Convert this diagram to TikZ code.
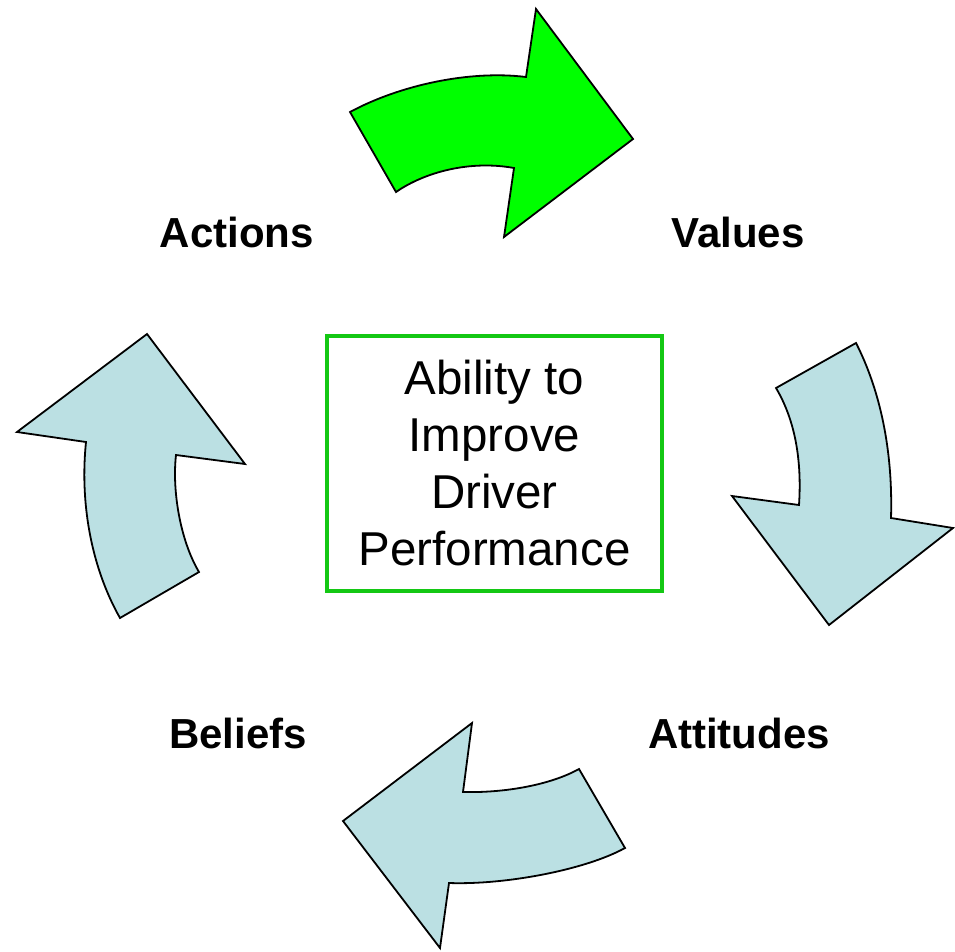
\documentclass[tikz,border=0pt]{standalone}
\usepackage{fontspec}
\setmainfont{Liberation Sans}
\definecolor{arrowgreen}{RGB}{0,255,0}
\definecolor{arrowblue}{RGB}{187,224,227}
\definecolor{boxgreen}{RGB}{20,200,20}
\begin{document}
\begin{tikzpicture}[x=1pt,y=-1pt,
  cyclearrow/.style={draw=black,line width=1.8pt,line join=miter},
  stage/.style={font=\fontsize{42}{48}\selectfont\bfseries,inner sep=0pt},
  centerbox/.style={draw=boxgreen,line width=4.5pt,minimum width=335pt,minimum height=255pt,
    align=center,font=\fontsize{47.5}{57}\selectfont,inner sep=0pt}]
\useasboundingbox (0,0) rectangle (955,951);

% stage labels
\node[stage] (actions) at (237,232) {Actions};
\node[stage] (values) at (738,232) {Values};
\node[stage] (attitudes) at (739,733) {Attitudes};
\node[stage] (beliefs) at (238,733) {Beliefs};

% central goal
\node[centerbox] (goal) at (494.5,463.5) {Ability to\\Improve\\Driver\\Performance};

% Actions -> Values
\draw[cyclearrow,fill=arrowgreen]
  (350,112) .. controls (400,85) and (470,70) .. (526,77)
  -- (536,9) -- (633,139) -- (504,237) -- (514,168)
  .. controls (470,160) and (425,172) .. (396,192) -- cycle;

% Values -> Attitudes
\draw[cyclearrow,fill=arrowblue]
  (856,343) .. controls (880,390) and (893,450) .. (891,518)
  -- (953,528) -- (829,625) -- (732,496) -- (799,505)
  .. controls (802,460) and (795,420) .. (776,388) -- cycle;

% Attitudes -> Beliefs
\draw[cyclearrow,fill=arrowblue]
  (625,848) .. controls (585,870) and (505,885) .. (449,883)
  -- (440,948) -- (343,821) -- (472,723) -- (463,792)
  .. controls (505,793) and (550,785) .. (579,769) -- cycle;

% Beliefs -> Actions
\draw[cyclearrow,fill=arrowblue]
  (120,618) .. controls (90,565) and (80,500) .. (86,442)
  -- (17,432) -- (147,334) -- (245,464) -- (176,455)
  .. controls (172,490) and (180,540) .. (199,572) -- cycle;
\end{tikzpicture}
\end{document}
